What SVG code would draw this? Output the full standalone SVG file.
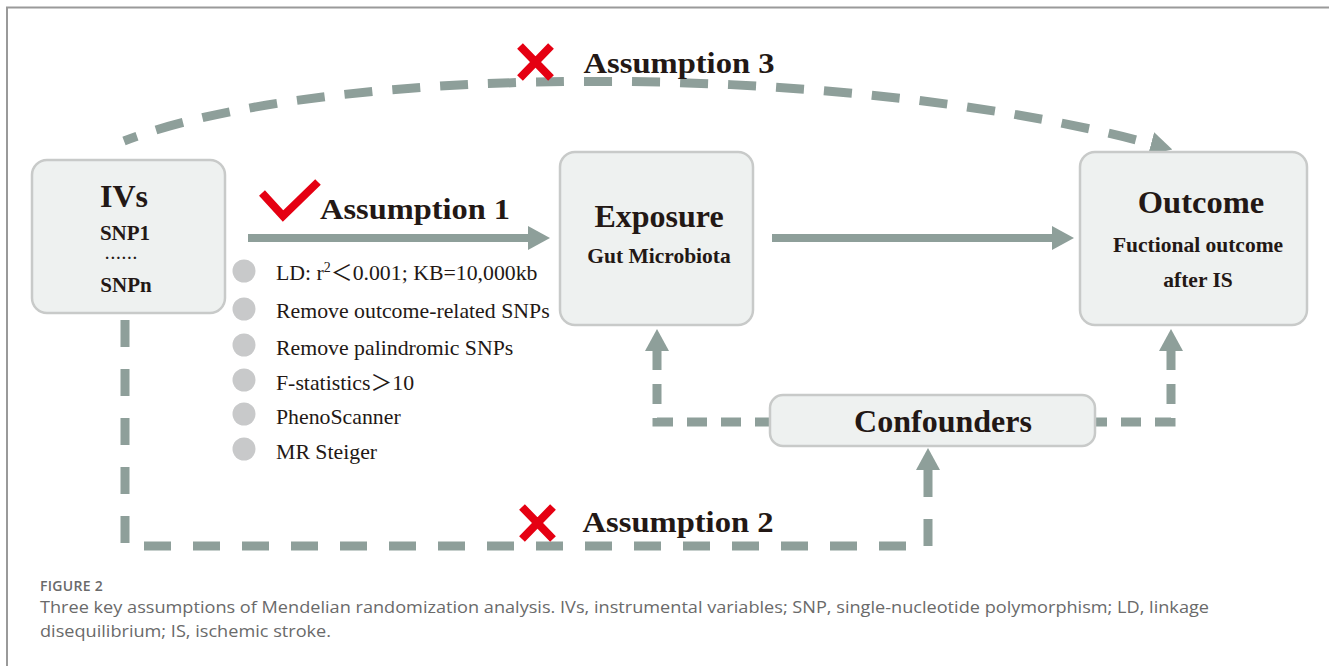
<svg xmlns="http://www.w3.org/2000/svg" width="1329" height="666" viewBox="0 0 1329 666">
<defs>
<style>
.box{fill:#eef1f0;stroke:#c8cac9;stroke-width:2.5}
.t{font-family:"Liberation Serif","Times New Roman",serif;fill:#231815;text-anchor:middle;font-weight:bold}
.b{font-family:"Liberation Serif","Times New Roman","Noto Sans CJK SC",serif;fill:#231815;font-size:21.8px}
.dot{fill:#c8c9ca}
.conn{fill:none;stroke:#8e9f9a}
.solid{stroke-width:8}
.dash{stroke-width:9;stroke-dasharray:27 22}
.dash2{stroke-width:9;stroke-dasharray:20 14}
.red{fill:none;stroke:#e50012;stroke-width:8}
.cap{font-family:"Open Sans","Noto Sans",sans-serif;fill:#6a6a6a}
</style>
<marker id="ah" viewBox="0 0 22 24" refX="1" refY="12" markerWidth="22" markerHeight="24" markerUnits="userSpaceOnUse" orient="auto-start-reverse">
<path d="M0,0 L22,12 L0,24 z" fill="#8e9f9a"/>
</marker>
</defs>
<rect width="1329" height="666" fill="#ffffff"/>
<path d="M7,666 V7.5 H1329" fill="none" stroke="#9a9a9a" stroke-width="2"/>

<g id="connectors">
<path class="conn dash" d="M124,141 C330,62 840,60 1152,144" style="stroke-dasharray:28 20;stroke-dashoffset:14" marker-end="url(#ah)"/>
<path class="conn dash" d="M125,320 V546 H928 V469" marker-end="url(#ah)"/>
<path class="conn solid" d="M248,238 H529" marker-end="url(#ah)"/>
<path class="conn solid" d="M772,238 H1053" marker-end="url(#ah)"/>
<path class="conn dash2" d="M657,350 V422 H775" marker-start="url(#ah)"/>
<path class="conn dash2" d="M1171,350 V422 H1090" marker-start="url(#ah)"/>
</g>

<g id="assumption1">
<polyline class="red" points="262,193 283,216 318,182"/>
<text class="t" x="415" y="219" font-size="30" textLength="190" lengthAdjust="spacingAndGlyphs">Assumption 1</text>
</g>
<g id="assumption3">
<path class="red" d="M520,46 L551,78 M551,46 L520,78"/>
<text class="t" x="679" y="73" font-size="30" textLength="191" lengthAdjust="spacingAndGlyphs">Assumption 3</text>
</g>
<g id="assumption2">
<path class="red" d="M522,507 L553,539 M553,507 L522,539"/>
<text class="t" x="678" y="532" font-size="30" textLength="191" lengthAdjust="spacingAndGlyphs">Assumption 2</text>
</g>

<g id="ivs">
<rect class="box" x="32" y="160" width="193" height="153" rx="15"/>
<text class="t" x="124" y="207" font-size="32">IVs</text>
<text class="t" x="125" y="240" font-size="21">SNP1</text>
<text class="t" x="122" y="259" font-size="15" letter-spacing="1.8">......</text>
<text class="t" x="126" y="292" font-size="21">SNPn</text>
</g>

<g id="exposure">
<rect class="box" x="560" y="152" width="193" height="173" rx="15"/>
<text class="t" x="659" y="227" font-size="32">Exposure</text>
<text class="t" x="659" y="263" font-size="21.5">Gut Microbiota</text>
</g>

<g id="outcome">
<rect class="box" x="1080" y="152" width="227" height="173" rx="15"/>
<text class="t" x="1201" y="213" font-size="32.5">Outcome</text>
<text class="t" x="1198" y="252" font-size="21.5">Fuctional outcome</text>
<text class="t" x="1198" y="287" font-size="21.5">after IS</text>
</g>

<g id="confounders">
<rect class="box" x="770" y="395" width="325" height="51" rx="13"/>
<text class="t" x="943" y="432" font-size="32">Confounders</text>
</g>

<g id="criteria">
<circle class="dot" cx="244" cy="271" r="11.5"/>
<circle class="dot" cx="244" cy="309" r="11.5"/>
<circle class="dot" cx="244" cy="345" r="11.5"/>
<circle class="dot" cx="244" cy="380" r="11.5"/>
<circle class="dot" cx="244" cy="414" r="11.5"/>
<circle class="dot" cx="244" cy="449" r="11.5"/>
<text class="b" x="276" y="280">LD: r<tspan font-size="14" dy="-8">2</tspan><tspan dy="8">＜0.001; KB=10,000kb</tspan></text>
<text class="b" x="276" y="318">Remove outcome-related SNPs</text>
<text class="b" x="276" y="355">Remove palindromic SNPs</text>
<text class="b" x="276" y="390">F-statistics＞10</text>
<text class="b" x="276" y="424">PhenoScanner</text>
<text class="b" x="276" y="459">MR Steiger</text>
</g>

<g id="caption">
<text class="cap" x="40" y="591" font-size="14" font-weight="600" letter-spacing="0.3">FIGURE 2</text>
<text class="cap" x="40" y="613" font-size="17" textLength="1169" lengthAdjust="spacingAndGlyphs">Three key assumptions of Mendelian randomization analysis. IVs, instrumental variables; SNP, single-nucleotide polymorphism; LD, linkage</text>
<text class="cap" x="40" y="637" font-size="17" textLength="291" lengthAdjust="spacingAndGlyphs">disequilibrium; IS, ischemic stroke.</text>
</g>
</svg>
